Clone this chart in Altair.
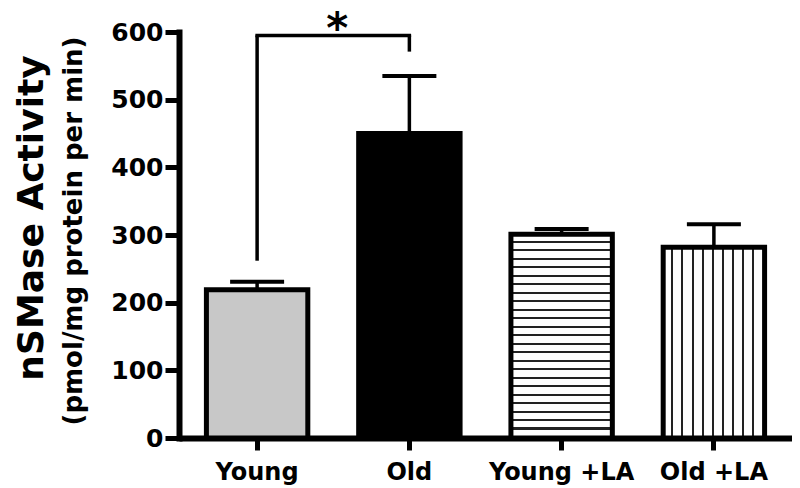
import altair as alt
import pandas as pd

# ---- data ----
groups = ["Young", "Old", "Young +LA", "Old +LA"]
means = [219, 450, 301, 282]
sems = [12, 85, 8, 34]

# significance bracket (Young vs Old)
bracket_pair = ["Young", "Old"]
bracket_top = 595
bracket_left_bottom = 262
bracket_right_bottom = 571
sig_label = "*"

y_title = "nSMase Activity"
y_subtitle = "(pmol/mg protein per min)"
y_ticks = [0, 100, 200, 300, 400, 500, 600]

df = pd.DataFrame({"group": groups, "mean": means, "sem": sems})
df["upper"] = df["mean"] + df["sem"]

FONT = "DejaVu Sans"
W, H = 613, 406


def stripes(n, frac, vertical_lines, line="#222222"):
    stops = []
    for i in range(n):
        a = i / n
        b = (i + 1 - frac) / n
        c = (i + 1) / n
        stops += [
            alt.GradientStop(offset=a, color="white"),
            alt.GradientStop(offset=b, color="white"),
            alt.GradientStop(offset=b, color=line),
            alt.GradientStop(offset=c, color=line),
        ]
    if vertical_lines:
        return alt.LinearGradient(gradient="linear", stops=stops, x1=0, x2=1, y1=0, y2=0)
    return alt.LinearGradient(gradient="linear", stops=stops, x1=0, x2=0, y1=0, y2=1)


xscale = alt.Scale(domain=groups, paddingInner=0.334, paddingOuter=0.18)
yscale = alt.Scale(domain=[0, 600], nice=False)

X = alt.X("group:N", scale=xscale, sort=groups, title=None)
Y = alt.Y("mean:Q", scale=yscale, title=None, axis=alt.Axis(values=y_ticks))

base = alt.Chart(df)

err_line = base.mark_rule(color="black", strokeWidth=3.5, opacity=1).encode(
    x=X, y=Y, y2="upper:Q")
err_cap = base.mark_tick(color="black", size=54, thickness=4, opacity=1).encode(
    x=X, y=alt.Y("upper:Q", scale=yscale, title=None))

fills = {
    "Young": "#c8c8c8",
    "Old": "black",
    "Young +LA": stripes(24, 0.24, vertical_lines=False),
    "Old +LA": stripes(10, 0.2, vertical_lines=True),
}
bars = [
    base.transform_filter(alt.datum.group == g).mark_bar(
        fill=fills[g], stroke="black", strokeWidth=5, strokeJoin="miter", opacity=1
    ).encode(x=X, y=Y)
    for g in groups
]

bdf = pd.DataFrame({"group": bracket_pair, "bottom": [bracket_left_bottom, bracket_right_bottom],
                    "top": [bracket_top, bracket_top]})
br_vert = alt.Chart(bdf).mark_rule(color="black", strokeWidth=3.5).encode(
    x=X, y=alt.Y("bottom:Q", scale=yscale, title=None), y2="top:Q")
hdf = pd.DataFrame({"group": [bracket_pair[0]], "b": [bracket_pair[1]], "top": [bracket_top]})
br_horiz = alt.Chart(hdf).mark_rule(color="black", strokeWidth=3.5, strokeCap="square").encode(
    x=X, x2="b:N", y=alt.Y("top:Q", scale=yscale, title=None))
star = alt.Chart(pd.DataFrame({"group": [bracket_pair[0]], "top": [bracket_top], "t": [sig_label]})).mark_text(
    font=FONT, fontWeight="bold", fontSize=42, dx=80, dy=8, baseline="alphabetic", align="center",
    color="black").encode(
    x=X, y=alt.Y("top:Q", scale=yscale, title=None), text="t:N")

t1 = alt.Chart(pd.DataFrame({"t": [y_title]})).mark_text(
    font=FONT, fontWeight="bold", fontSize=36, angle=270, align="center", baseline="middle",
    color="black").encode(x=alt.value(-147), y=alt.value(186), text="t:N")
t2 = alt.Chart(pd.DataFrame({"t": [y_subtitle]})).mark_text(
    font=FONT, fontWeight="bold", fontSize=26, angle=270, align="center", baseline="middle",
    color="black").encode(x=alt.value(-105), y=alt.value(199), text="t:N")

chart = alt.layer(err_line, err_cap, *bars, br_vert, br_horiz, star, t1, t2).properties(
    width=W, height=H,
    background="white",
    autosize=alt.AutoSizeParams(type="none"),
    padding={"left": 171, "top": 24, "right": 0, "bottom": 50},
).configure_view(stroke=None).configure_axis(
    grid=False, domainColor="black", tickColor="black", labelColor="black",
    labelFont=FONT, labelFontWeight="bold", domainWidth=6, tickWidth=5,
).configure_axisX(
    labelAngle=0, labelAlign="center", labelBaseline="top", labelFontSize=24,
    labelPadding=10, tickSize=12,
).configure_axisY(
    labelFontSize=25, labelPadding=2, tickSize=14, domainCap="square",
)

chart.save("out.html", embed_options={"renderer": "svg", "actions": False})
